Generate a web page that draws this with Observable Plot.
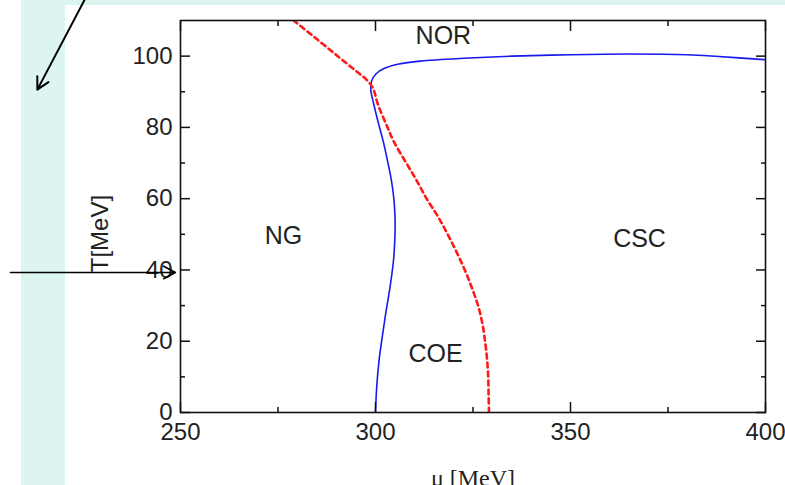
<!DOCTYPE html>
<html><head><meta charset="utf-8">
<script src="https://cdn.jsdelivr.net/npm/d3@7"></script>
<script src="https://cdn.jsdelivr.net/npm/@observablehq/plot@0.6"></script>
<style>
html,body{margin:0;padding:0;background:#fff;}
#wrap{position:relative;width:785px;height:485px;overflow:hidden;}
#cyan{position:absolute;left:21px;top:0;width:764px;height:485px;background:#ddf5f1;}
#white{position:absolute;left:65px;top:5px;width:720px;height:480px;background:#fff;}
#chart{position:absolute;left:0;top:0;}
</style></head>
<body><div id="wrap"><div id="cyan"></div><div id="white"></div><div id="chart"></div></div>
<script>
// Blue solid phase boundary (mu [MeV], T [MeV])
const blueMu = [300.0,300.3,300.9,301.7,302.6,303.7,304.6,305.0,305.0,304.7,304.1,303.2,302.0,300.8,299.6,298.8,299.0,300.1,302.3,306.0,311.5,322.6,335,350,365,380,388,400];
const blueT  = [0,7,14.5,21,27.7,35,42.5,50,55,60,65,70,76,81,86.3,90.5,93,95,96.6,97.8,98.6,99.4,100.0,100.4,100.6,100.4,99.9,99.0];
// Red dashed boundary
const redMu = [329.1,329.0,328.9,328.6,328.1,327.4,326.3,324.7,322.9,320.8,318.5,316.0,313.1,310.6,307.9,304.7,303.1,300.6,299.7,299.1,297.6,294.8,290.3,284.7,279.0,276.7];
const redT  = [0,5,10,15,20,25,30,35,40,45,50,55,60,65,70,76,80,86.5,90,91.5,93.5,96,100,105,110,112];
// Region labels
const regionNames = ["NOR","NG","CSC","COE"];
const regionMu = [317.4,276.4,367.7,315.4];
const regionT = [105.6,49.5,48.7,16.3];
// Axis titles
const yTitle = "T[MeV]";
const xTitle = "\u03bc [MeV]";
// Ticks
const xMajor = [250,300,350,400];
const xMinor = [275,325,375];
const yMajor = [0,20,40,60,80,100];
const yMinor = [10,30,50,70,90];
// Annotation arrows (in data units, outside the frame)
const arrows = [
  {x1:225.6, y1:116.2, x2:213.3, y2:90.6, w:2},
  {x1:206.4, y1:39.3, x2:248.7, y2:39.3, w:1.6}
];

const blue = blueMu.map((m,i)=>({mu:m, T:blueT[i]}));
const red = redMu.map((m,i)=>({mu:m, T:redT[i]}));
const regions = regionNames.map((n,i)=>({name:n, mu:regionMu[i], T:regionT[i]}));

const font = "Liberation Sans, Arial, Helvetica, sans-serif";
const ax = {stroke:"#111", strokeWidth:1.5, text:null, label:null};
const chart = Plot.plot({
  width: 785, height: 485,
  marginLeft: 180, marginRight: 20, marginTop: 20, marginBottom: 73,
  style: {background: "transparent", fontFamily: font, fontSize: "24px", color: "#222", overflow: "visible"},
  x: {domain: [250, 400], label: null},
  y: {domain: [0, 110], label: null},
  marks: [
    Plot.line(blue, {x:"mu", y:"T", stroke:"#1818f0", strokeWidth:1.6, curve:"catmull-rom", clip:true}),
    Plot.line(red, {x:"mu", y:"T", stroke:"#ff1a1a", strokeWidth:2.6, strokeDasharray:"5,4", curve:"catmull-rom", clip:true}),
    Plot.frame({stroke:"#111", strokeWidth:1.6}),
    Plot.axisX({...ax, ticks:xMajor, tickSize:-10}),
    Plot.axisX({...ax, ticks:xMinor, tickSize:-5}),
    Plot.axisX({...ax, anchor:"top", ticks:xMajor, tickSize:-10}),
    Plot.axisX({...ax, anchor:"top", ticks:xMinor, tickSize:-5}),
    Plot.axisY({...ax, ticks:yMajor, tickSize:-10}),
    Plot.axisY({...ax, ticks:yMinor, tickSize:-5}),
    Plot.axisY({...ax, anchor:"right", ticks:yMajor, tickSize:-10}),
    Plot.axisY({...ax, anchor:"right", ticks:yMinor, tickSize:-5}),
    Plot.axisX({ticks:xMajor, tickSize:0, tickPadding:10, tickFormat:d=>String(d), fill:"#222", fontSize:24, label:null}),
    Plot.axisY({ticks:yMajor, tickSize:0, tickPadding:8, tickFormat:d=>String(d), fill:"#222", fontSize:24, label:null}),
    Plot.text(regions, {x:"mu", y:"T", text:"name", fontSize:25, fill:"#222", fontFamily:font}),
    Plot.text([{t:yTitle, T:50.2}], {y:"T", text:"t", frameAnchor:"left", dx:-80, rotate:-90, textAnchor:"middle", fontSize:24, fill:"#222", fontFamily:font}),
    Plot.text([xTitle], {frameAnchor:"bottom", dy:56, lineAnchor:"top", fontSize:24, fill:"#222", fontFamily:"Liberation Serif, Times New Roman, serif"}),
    Plot.arrow(arrows, {x1:"x1", y1:"y1", x2:"x2", y2:"y2", stroke:"#000", strokeWidth:"w", headLength:20, headAngle:56})
  ]
});
document.getElementById("chart").appendChild(chart);
</script>
</body></html>
